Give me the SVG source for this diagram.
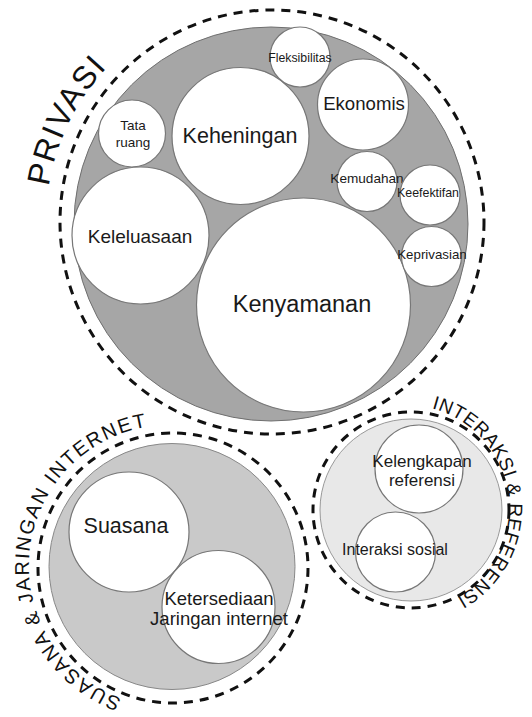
<svg xmlns="http://www.w3.org/2000/svg" xmlns:xlink="http://www.w3.org/1999/xlink" width="532" height="717" viewBox="0 0 532 717">
<defs>
<style>
.dash{fill:none;stroke:#111;stroke-width:3;stroke-dasharray:9 7}
.sub{fill:#fff;stroke:#777;stroke-width:1.2}
.t{font-family:"Liberation Sans",Arial,sans-serif;fill:#1a1a1a;text-anchor:middle}
.ct{font-family:"Liberation Sans",Arial,sans-serif;fill:#111}
</style>
<path id="arcP" d="M48.8,186.6 A226,226 0 0 1 232.8,-0.6"/>
<path id="arcS" d="M121.8,698.5 A141,141 0 1 1 240.5,443.9"/>
<path id="arcI" d="M431.8,408.3 A103,103 0 1 1 354.5,597.2"/>
</defs>
<rect width="532" height="717" fill="#fff"/>
<g id="privasi">
<circle cx="271" cy="224" r="197" fill="#a6a6a6" stroke="#6f6f6f" stroke-width="1"/>
<circle class="dash" cx="272" cy="222" r="212"/>
<text class="ct" font-size="32" letter-spacing="1.7"><textPath xlink:href="#arcP" href="#arcP">PRIVASI</textPath></text>
</g>
<g id="kenyamanan"><circle class="sub" cx="303.5" cy="305" r="107"/><text class="t" x="302" y="312" font-size="23.5">Kenyamanan</text></g>
<g id="keheningan"><circle class="sub" cx="240.5" cy="136" r="68.5"/><text class="t" x="240" y="143" font-size="21.5">Keheningan</text></g>
<g id="tataruang"><circle class="sub" cx="132" cy="133.5" r="33.5"/><text class="t" x="133" y="130" font-size="13.5">Tata</text><text class="t" x="133" y="147" font-size="13.5">ruang</text></g>
<g id="keleluasaan"><circle class="sub" cx="140.5" cy="235.5" r="68.5"/><text class="t" x="140" y="243" font-size="19">Keleluasaan</text></g>
<g id="fleksibilitas"><circle class="sub" cx="300" cy="57" r="30"/><text class="t" x="300" y="62" font-size="12.3">Fleksibilitas</text></g>
<g id="ekonomis"><circle class="sub" cx="363" cy="104.5" r="45.5"/><text class="t" x="364" y="110" font-size="18.6">Ekonomis</text></g>
<g id="kemudahan"><circle class="sub" cx="367" cy="181.5" r="30"/><text class="t" x="367" y="183" font-size="13.6">Kemudahan</text></g>
<g id="keefektifan"><circle class="sub" cx="430" cy="195" r="30"/><text class="t" x="428" y="197" font-size="12.4">Keefektifan</text></g>
<g id="keprivasian"><circle class="sub" cx="431.5" cy="256.5" r="30"/><text class="t" x="432" y="259" font-size="13.3">Keprivasian</text></g>

<g id="suasana-jaringan">
<circle cx="172" cy="566.5" r="123" fill="#c9c9c9" stroke="#888" stroke-width="1"/>
<circle class="dash" cx="173" cy="568" r="135"/>
<text class="ct" font-size="20" letter-spacing="1.7"><textPath xlink:href="#arcS" href="#arcS">SUASANA &amp; JARINGAN INTERNET</textPath></text>
</g>
<g id="suasana"><circle class="sub" cx="129" cy="532" r="60"/><text class="t" x="126" y="533" font-size="21.5">Suasana</text></g>
<g id="ketersediaan"><circle class="sub" cx="218.5" cy="607" r="56.5"/><text class="t" x="219" y="605" font-size="18.5">Ketersediaan</text><text class="t" x="219" y="625" font-size="18.5">Jaringan internet</text></g>

<g id="interaksi-referensi">
<circle cx="411" cy="510" r="91" fill="#e8e8e8" stroke="#999" stroke-width="1"/>
<circle class="dash" cx="411" cy="510" r="98"/>
<text class="ct" font-size="19" letter-spacing="0.6"><textPath xlink:href="#arcI" href="#arcI">INTERAKSI &amp; REFERENSI</textPath></text>
</g>
<g id="kelengkapan"><circle class="sub" cx="419" cy="469" r="44"/><text class="t" x="422" y="467" font-size="17">Kelengkapan</text><text class="t" x="422" y="486" font-size="17">referensi</text></g>
<g id="interaksisosial"><circle class="sub" cx="395.5" cy="552" r="40"/><text class="t" x="395" y="555" font-size="16">Interaksi sosial</text></g>
<g id="connectors"/>
</svg>
